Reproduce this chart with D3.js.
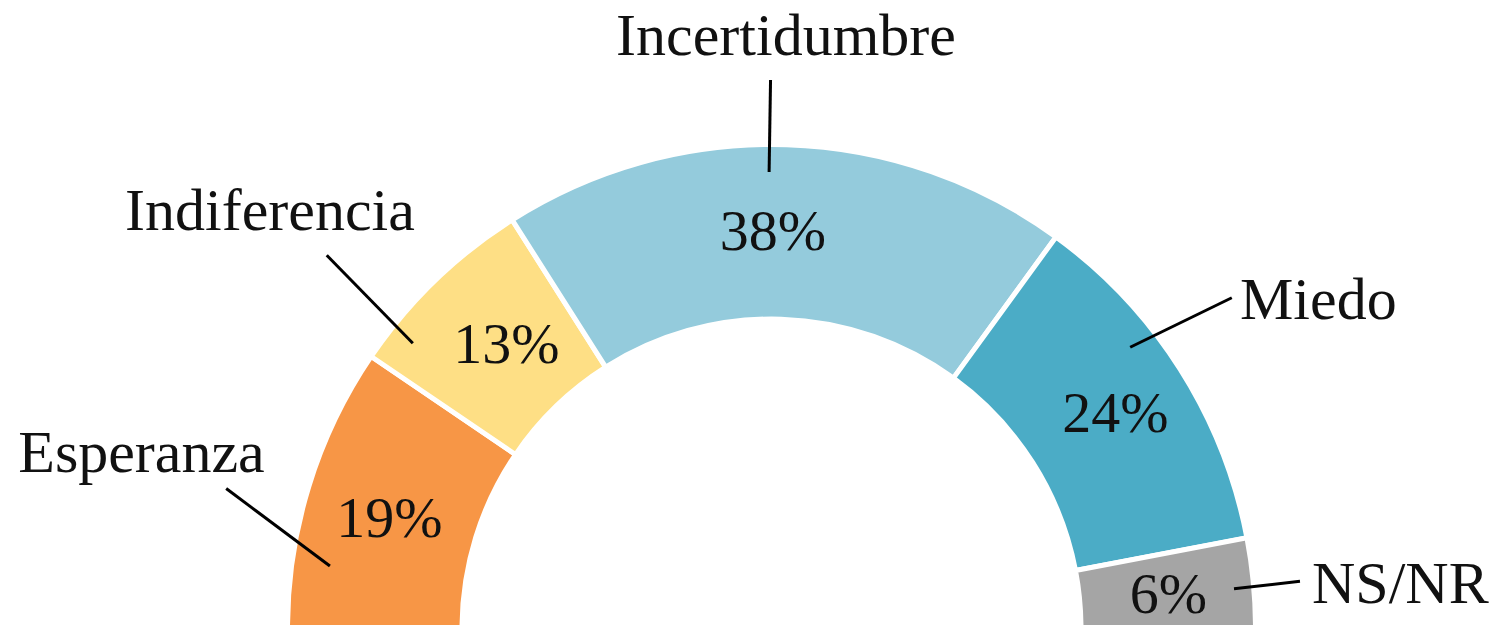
<!DOCTYPE html>
<html>
<head>
<meta charset="utf-8">
<script src="https://cdn.jsdelivr.net/npm/d3@7"></script>
<style>
html,body{margin:0;padding:0;background:#fff;overflow:hidden;}
svg{display:block;}
</style>
</head>
<body>
<svg id="chart" width="1501" height="625"></svg>
<script>
// ---- data ----
const categories = ["Esperanza", "Indiferencia", "Incertidumbre", "Miedo", "NS/NR"];
const values = [19, 13, 38, 24, 6];
const percentLabels = ["19%", "13%", "38%", "24%", "6%"];
const colors = ["#F79646", "#FEDF85", "#94CBDC", "#4BACC6", "#A5A5A5"];

// ---- layout ----
const W = 1501, H = 625;
const cx = 771.5, cy = 628.5;
const rOuter = 484, rInner = 309.5;
const fontFamily = "'Liberation Serif','Times New Roman',serif";

// nudges for percent labels relative to arc centroid
const pctNudge = [[-3, 25], [11, 19], [-11, 18], [9, 16], [2, 22]];
// outer category labels: text anchor position + leader line (polar: angle deg from left, radius)
const outerLabels = [
  {x: 141.5, y: 472, anchor: "middle", lead: [[14.4, 563], [8.06, 446]]},
  {x: 270, y: 230, anchor: "middle", lead: [[40.0, 580.6], [38.5, 458.3]]},
  {x: 786, y: 55, anchor: "middle", lead: [[89.9, 548.5], [89.7, 456.5]]},
  {x: 1240, y: 319, anchor: "start", lead: [[144.3, 566.8], [141.9, 455.8]]},
  {x: 1312, y: 603, anchor: "start", lead: [[174.9, 530.6], [175.1, 464.2]]}
];

const svg = d3.select("#chart");
const g = svg.append("g").attr("transform", `translate(${cx},${cy})`);

const pie = d3.pie().sort(null).value(d => d)
  .startAngle(-Math.PI / 2).endAngle(Math.PI / 2);
const arcs = pie(values);
const arc = d3.arc().innerRadius(rInner).outerRadius(rOuter);

g.selectAll("path.slice").data(arcs).enter().append("path")
  .attr("class", "slice")
  .attr("d", arc)
  .attr("fill", (d, i) => colors[i])
  .attr("stroke", "#fff")
  .attr("stroke-width", 5)
  .attr("stroke-linejoin", "miter");

// polar helper: angle measured from left horizontal, counter... (left -> top -> right)
function polar(deg, r) {
  const t = deg * Math.PI / 180;
  return [-r * Math.cos(t), -r * Math.sin(t)];
}

// leader lines
g.selectAll("line.lead").data(outerLabels).enter().append("line")
  .attr("class", "lead")
  .attr("x1", d => polar(d.lead[0][0], d.lead[0][1])[0])
  .attr("y1", d => polar(d.lead[0][0], d.lead[0][1])[1])
  .attr("x2", d => polar(d.lead[1][0], d.lead[1][1])[0])
  .attr("y2", d => polar(d.lead[1][0], d.lead[1][1])[1])
  .attr("stroke", "#000")
  .attr("stroke-width", 3);

// percent labels
const mid = d3.arc().innerRadius((rInner + rOuter) / 2 - 0.5).outerRadius((rInner + rOuter) / 2 + 0.5);
g.selectAll("text.pct").data(arcs).enter().append("text")
  .attr("class", "pct")
  .attr("x", (d, i) => arc.centroid(d)[0] + pctNudge[i][0])
  .attr("y", (d, i) => arc.centroid(d)[1] + pctNudge[i][1])
  .attr("text-anchor", "middle")
  .attr("font-family", fontFamily)
  .attr("font-size", 58)
  .attr("fill", "#111")
  .text((d, i) => percentLabels[i]);

// category labels
svg.selectAll("text.cat").data(outerLabels).enter().append("text")
  .attr("class", "cat")
  .attr("x", d => d.x)
  .attr("y", d => d.y)
  .attr("text-anchor", d => d.anchor)
  .attr("font-family", fontFamily)
  .attr("font-size", 60)
  .attr("fill", "#111")
  .text((d, i) => categories[i]);
</script>
</body>
</html>
